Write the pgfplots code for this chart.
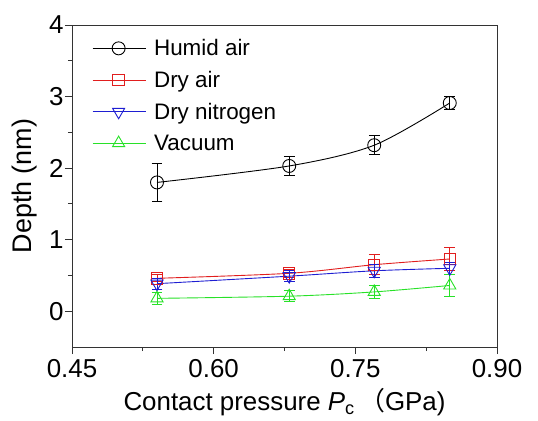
\documentclass[border=0pt]{standalone}
\usepackage{pgfplots}
\pgfplotsset{compat=1.18}
\usepackage{fontspec}
\setmainfont{Liberation Sans}
\newfontfamily\cjk{Noto Sans CJK SC}
\definecolor{cred}{RGB}{225,30,30}
\definecolor{cblue}{RGB}{30,30,210}
\definecolor{cgreen}{RGB}{40,225,40}
\begin{document}
\begin{tikzpicture}
\begin{axis}[
name=ax,
scale only axis,
width=425bp, height=322bp,
xmin=0.45, xmax=0.90,
ymin=-0.5, ymax=4,
xtick={0.45,0.60,0.75,0.90},
ytick={0,1,2,3,4},
minor x tick num=1,
minor y tick num=1,
xtick pos=bottom, ytick pos=left,
tick align=outside,
major tick length=7bp, minor tick length=4bp,
tick style={black!80, line width=0.8pt},
axis line style={black!80, line width=1pt},
/pgf/number format/assume math mode=true,
xticklabel style={/pgf/number format/fixed, /pgf/number format/fixed zerofill, /pgf/number format/precision=2, yshift=-2bp},
yticklabel style={xshift=2bp},
ticklabel style={font=\fontsize{26}{30}\selectfont},
xlabel style={font=\fontsize{26}{30}\selectfont, yshift=-4bp},
ylabel style={font=\fontsize{27}{31}\selectfont, yshift=5bp},
xlabel={Contact pressure \textit{P}\textsubscript{c}\,{\cjk （}GPa)},
ylabel={Depth (nm)},
legend style={at={(0.04,0.968)}, anchor=north west, draw=none, fill=none,
  font=\fontsize{22.5}{27}\selectfont, row sep=10bp, column sep=6bp},
legend cell align=left,
legend image code/.code={\draw[mark repeat=2,mark phase=2] plot coordinates {(0bp,0bp)(26bp,0bp)(53bp,0bp)};},
every axis plot/.append style={line width=0.9pt, mark size=6.5bp, smooth},
error bars/error bar style={line width=0.9pt},
error bars/error mark options={rotate=90, mark size=5.3bp, line width=0.9pt},
]
\addplot [black, mark=o, mark options={fill=white},
  error bars/.cd, y dir=both, y explicit] coordinates {
(0.54,1.80) +- (0,0.26)
(0.68,2.03) +- (0,0.13)
(0.77,2.32) +- (0,0.13)
(0.85,2.91) +- (0,0.09)
};
\addlegendentry{Humid air}
\addplot [cred, mark=square, mark options={fill=none, mark size=5.7bp},
  error bars/.cd, y dir=both, y explicit] coordinates {
(0.54,0.46) +- (0,0.05)
(0.68,0.53) +- (0,0.06)
(0.77,0.65) +- (0,0.14)
(0.85,0.73) +- (0,0.16)
};
\addlegendentry{Dry air}
\addplot [cblue, mark=triangle, mark options={rotate=180, fill=none, mark size=7bp},
  error bars/.cd, y dir=both, y explicit] coordinates {
(0.54,0.385) +- (0,0.08)
(0.68,0.49) +- (0,0.08)
(0.77,0.565) +- (0,0.09)
(0.85,0.60) +- (0,0.08)
};
\addlegendentry{Dry nitrogen}
\addplot [cgreen, mark=triangle, mark options={fill=none, mark size=7bp},
  error bars/.cd, y dir=both, y explicit] coordinates {
(0.54,0.18) +- (0,0.08)
(0.68,0.21) +- (0,0.08)
(0.77,0.27) +- (0,0.09)
(0.85,0.36) +- (0,0.15)
};
\addlegendentry{Vacuum}
\end{axis}
\pgfresetboundingbox
\path ([xshift=-72bp,yshift=25bp]ax.north west) rectangle ([xshift=41bp,yshift=-74bp]ax.south east);
\end{tikzpicture}
\end{document}
